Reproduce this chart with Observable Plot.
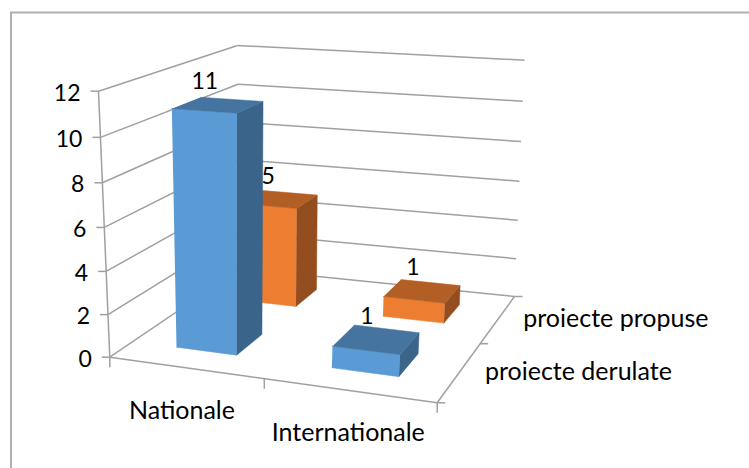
<!DOCTYPE html>
<html><head><meta charset="utf-8">
<script src="https://cdn.jsdelivr.net/npm/d3@7"></script>
<script src="https://cdn.jsdelivr.net/npm/@observablehq/plot@0.6"></script>
<style>html,body{margin:0;padding:0;background:#fff}svg{display:block}</style>
</head><body><div id="chart"></div>
<script>
const categories = ["Nationale", "Internationale"];
const seriesNames = ["proiecte derulate", "proiecte propuse"];
const proiecteDerulate = [11, 1];
const proiectePropuse = [5, 1];
const valueTicks = [0, 2, 4, 6, 8, 10, 12];
const seriesValues = [proiecteDerulate, proiectePropuse];

const W = 749, H = 468, vMax = 12, halfBar = 0.1;
const colors = [
  {front: "#5b9bd5", top: "#44749f", side: "#3a6489"},
  {front: "#ed7d31", top: "#b35e25", side: "#934d1e"}
];
// The 3-D box of the chart: floor and ceiling quads (front-left, front-right, back-right, back-left)
const floorQuad = [[109.3,356.7],[436.7,402.3],[514,296],[240,268]];
const topQuad = [[98,90.7],[456,115],[524,59.7],[237,45]];
function homography(q){
  const [[x0,y0],[x1,y1],[x2,y2],[x3,y3]] = q;
  const dx1=x1-x2,dx2=x3-x2,sx=x0-x1+x2-x3,dy1=y1-y2,dy2=y3-y2,sy=y0-y1+y2-y3;
  const den=dx1*dy2-dx2*dy1;
  const g=(sx*dy2-dx2*sy)/den,h=(dx1*sy-sx*dy1)/den;
  const a=x1-x0+g*x1,b=x3-x0+h*x3,d=y1-y0+g*y1,e=y3-y0+h*y3;
  return (u,w)=>{const k=g*u+h*w+1;return [(a*u+b*w+x0)/k,(d*u+e*w+y0)/k];};
}
const hFloor = homography(floorQuad), hTop = homography(topQuad);
function project(u,w,v){
  const p=hFloor(u,w),q=hTop(u,w),r=v/vMax,t=r/(1+0.05*(1-r));
  return {x:p[0]+(q[0]-p[0])*t,y:p[1]+(q[1]-p[1])*t};
}
const seg = (a,b,extra={}) => ({x1:a.x,y1:a.y,x2:b.x,y2:b.y,...extra});

// gridlines & box edges
const grid = valueTicks.filter(v=>v>0).flatMap(v=>[seg(project(0,0,v),project(0,1,v)),seg(project(0,1,v),project(1,1,v))]);
const edges = [
  seg(project(0,0,0),project(0,0,vMax)),
  seg(project(0,0,0),project(1,0,0)),
  seg(project(1,0,0),project(1,1,0)),
  seg(project(0,0,0),project(0,1,0)),
  seg(project(0,1,0),project(1,1,0))
];
const tickLen = 8;
const ticks = [
  ...valueTicks.map(v=>{const p=project(0,0,v);return seg({x:p.x-tickLen,y:p.y},p);}),
  ...[0,.5,1].map(u=>{const p=project(u,0,0);return seg(p,{x:p.x,y:p.y+tickLen+2});}),
  ...[0,.5,1].map(w=>{const p=project(1,w,0);return seg(p,{x:p.x+tickLen,y:p.y});})
];

// bars: back series first
const faceMarks = [];
const labels = [];
[1,0].forEach(s=>{
  categories.forEach((cat,c)=>{
    const val = seriesValues[s][c], uc=c*.5+.25, wc=s*.5+.25;
    const u0=uc-halfBar,u1=uc+halfBar,w0=wc-halfBar,w1=wc+halfBar;
    const face=(pts,fill)=>faceMarks.push(Plot.line(pts,{x:"x",y:"y",fill,stroke:fill,strokeWidth:.5}));
    face([project(u0,w0,0),project(u1,w0,0),project(u1,w0,val),project(u0,w0,val)],colors[s].front);
    face([project(u1,w0,0),project(u1,w1,0),project(u1,w1,val),project(u1,w0,val)],colors[s].side);
    face([project(u0,w0,val),project(u1,w0,val),project(u1,w1,val),project(u0,w1,val)],colors[s].top);
    const t=project(uc,wc,val);
    labels.push({x:t.x-9-val*.4,y:t.y-23,text:String(val)});
  });
});
const fontFamily = "Lato, 'Noto Sans', sans-serif", fontSize = 23, textSize = 25;
const valueLabels = valueTicks.map(v=>{const p=project(0,0,v);return {x:p.x-18,y:p.y+2,text:String(v)};});
const catLabels = categories.map((c,i)=>{const p=project(i*.5+.25,0,0);return {x:p.x-(i?0:3),y:p.y+43,text:c};});
const seriesLabels = seriesNames.map((c,i)=>{const p=project(1,i*.5+.25,0);return {x:p.x+25,y:p.y,text:c};});
const gray="#a0a0a0";
const linkOpts={x1:"x1",y1:"y1",x2:"x2",y2:"y2",stroke:gray,strokeWidth:1.5};
const plot = Plot.plot({
  width:W,height:H,margin:0,
  x:{domain:[0,W],range:[0,W],axis:null},
  y:{domain:[0,H],range:[0,H],axis:null},
  style:{background:"#fff",fontFamily},
  marks:[
    Plot.ruleX([10.5],{y1:12,y2:H,stroke:"#b0b0b0",strokeWidth:2}),
    Plot.ruleY([12],{x1:10,x2:W,stroke:"#b0b0b0",strokeWidth:2}),
    Plot.link(grid,linkOpts),
    Plot.link(edges,linkOpts),
    Plot.link(ticks,linkOpts),
    ...faceMarks,
    Plot.text(labels,{x:"x",y:"y",text:"text",fontSize,fill:"#000"}),
    Plot.text(valueLabels,{x:"x",y:"y",text:"text",fontSize,fill:"#000",textAnchor:"end"}),
    Plot.text(catLabels,{x:"x",y:"y",text:"text",fontSize:textSize,fill:"#000"}),
    Plot.text(seriesLabels,{x:"x",y:"y",text:"text",fontSize:textSize,fill:"#000",textAnchor:"start"})
  ]
});
document.getElementById("chart").appendChild(plot);
</script></body></html>
